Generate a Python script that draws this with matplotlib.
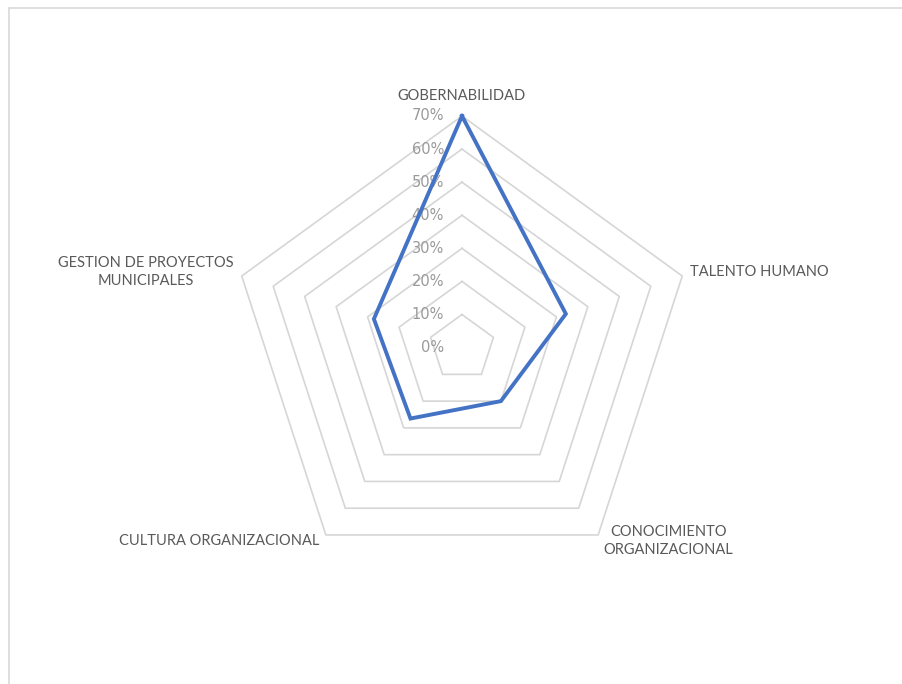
import numpy as np
import matplotlib
matplotlib.use('Agg')
import matplotlib.pyplot as plt
from matplotlib.lines import Line2D
from matplotlib.transforms import offset_copy

plt.rcParams['font.family'] = ['Lato', 'DejaVu Sans']

# categories and values (fraction)
categories = ['GOBERNABILIDAD', 'TALENTO HUMANO', 'CONOCIMIENTO\nORGANIZACIONAL',
              'CULTURA ORGANIZACIONAL', 'GESTION DE PROYECTOS\nMUNICIPALES']
values = [0.70, 0.33, 0.20, 0.265, 0.28]
levels = [0.1, 0.2, 0.3, 0.4, 0.5, 0.6, 0.7]
tick_levels = [0.0, 0.1, 0.2, 0.3, 0.4, 0.5, 0.6, 0.7]

W, H = 902, 684
fig = plt.figure(figsize=(W / 100, H / 100), dpi=100)

cx, cy, R = 462, 347.6, 231.6
ax = fig.add_axes([(cx - R) / W, (H - cy - R) / H, 2 * R / W, 2 * R / H], projection='polar')
ax.set_theta_offset(np.pi / 2)
ax.set_theta_direction(-1)
ax.set_ylim(0, 0.7)
ax.grid(False)
ax.spines['polar'].set_visible(False)
ax.set_xticks([])
ax.set_yticks([])
ax.patch.set_alpha(0)

n = len(categories)
angles = np.arange(n) * 2 * np.pi / n
ang_closed = np.append(angles, angles[0])

# pentagon rings
for lv in levels:
    ax.plot(ang_closed, [lv] * (n + 1), color='#d6d6d6', lw=1.2, clip_on=False, zorder=1)

# data
vals = values + values[:1]
ax.plot(ang_closed, vals, color='#4472c4', lw=2.8, clip_on=False, zorder=3,
        solid_joinstyle='miter')

# radial tick labels
tr = offset_copy(ax.transData, fig=fig, x=-18, y=0, units='dots')
for lv in tick_levels:
    ax.text(0, lv, f'{int(round(lv * 100))}%', transform=tr, ha='right', va='center',
            fontsize=10.5, color='#9a9a9a', family='DejaVu Sans', zorder=2)

# category labels
offsets = [(0, 20, 'center'), (8, 4, 'left'), (70, -6, 'center'),
           (-6, -6, 'right'), (-8, 4, 'right')]
for ang, lab, (dx, dy, ha) in zip(angles, categories, offsets):
    t = offset_copy(ax.transData, fig=fig, x=dx, y=dy, units='dots')
    ax.text(ang, 0.7, lab, transform=t, ha=ha, va='center', multialignment='center',
            fontsize=10.5, color='#595959', linespacing=1.35)

# outer frame
fig.add_artist(Line2D([8.5 / W, 1], [1 - 7.5 / H, 1 - 7.5 / H], color='#d9d9d9', lw=1.2))
fig.add_artist(Line2D([8.5 / W, 8.5 / W], [0, 1 - 7.5 / H], color='#d9d9d9', lw=1.2))

fig.savefig('out.png', dpi=100, facecolor='white')
